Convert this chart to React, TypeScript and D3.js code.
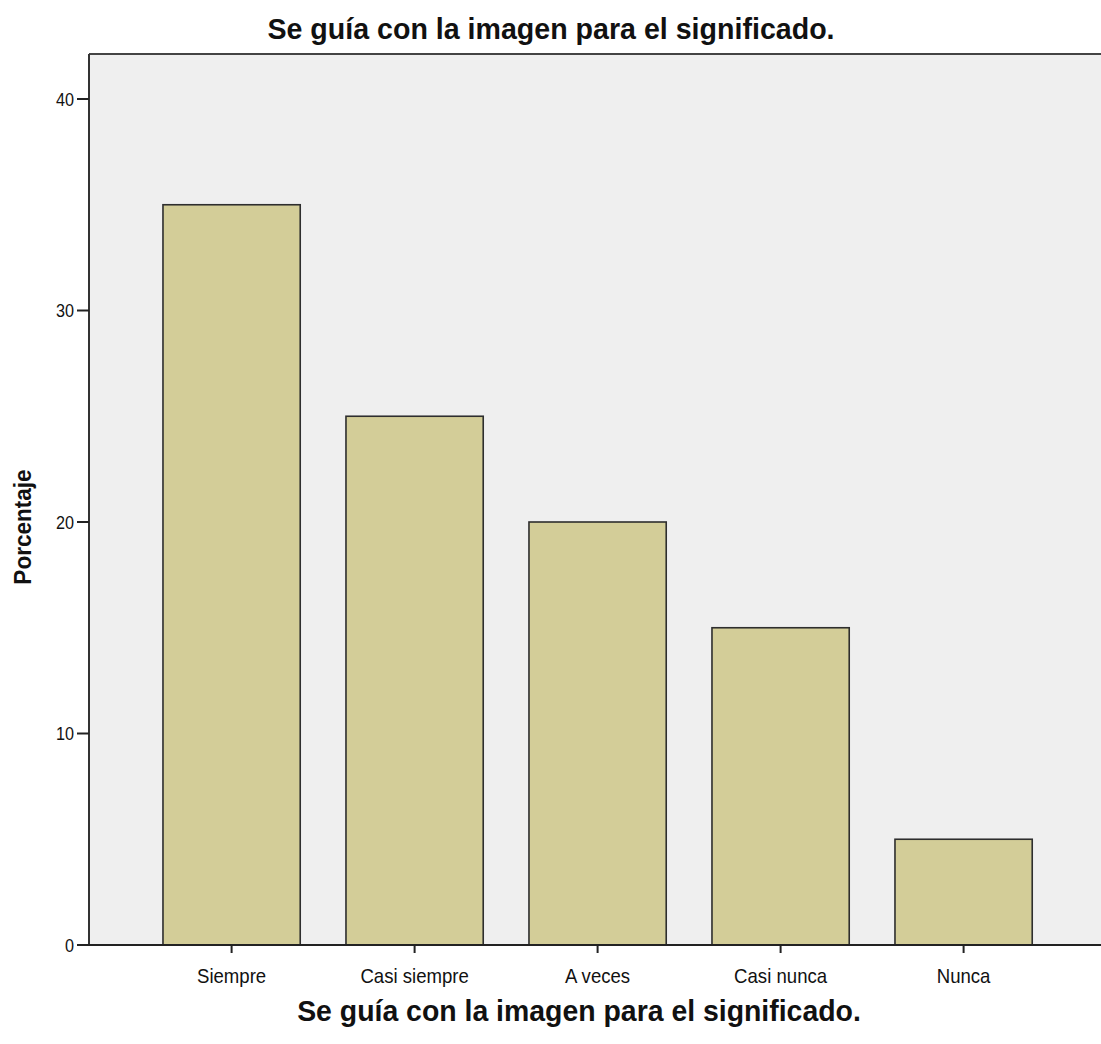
import React from "react";
import * as d3 from "d3";

const categories = ["Siempre", "Casi siempre", "A veces", "Casi nunca", "Nunca"];
const values = [35, 25, 20, 15, 5];
const yTicks = [0, 10, 20, 30, 40];
const title = "Se guía con la imagen para el significado.";
const xTitle = "Se guía con la imagen para el significado.";
const yTitle = "Porcentaje";

const W = 1101;
const H = 1044;
const left = 89;
const top = 54;
const bottom = 945;

export default function App() {
  const y = d3.scaleLinear().domain([0, 40]).range([bottom, 99]);
  const x = d3
    .scaleBand<string>()
    .domain(categories)
    .range([140.1, 1055.1])
    .paddingInner(0.25)
    .paddingOuter(0.125);
  const font = "'Liberation Sans', Arial, sans-serif";
  return (
    <svg
      width={W}
      height={H}
      style={{ position: "absolute", left: 0, top: 0, background: "#fff" }}
      fontFamily={font}
    >
      <rect x={left} y={top} width={W - left} height={bottom - top} fill="#efefef" />
      {categories.map((c, i) => (
        <rect
          key={c}
          x={x(c)}
          y={y(values[i])}
          width={x.bandwidth()}
          height={bottom - y(values[i])}
          fill="#d3cd98"
          stroke="#2e2e2e"
          strokeWidth={1.6}
        />
      ))}
      <line x1={left} x2={W} y1={top} y2={top} stroke="#444" strokeWidth={2} />
      <line x1={left} x2={left} y1={top} y2={bottom} stroke="#333" strokeWidth={2} />
      <line x1={left - 12} x2={W} y1={bottom} y2={bottom} stroke="#222" strokeWidth={2} />
      {yTicks.map((t) => (
        <g key={t}>
          <line x1={left - 12} x2={left} y1={y(t)} y2={y(t)} stroke="#222" strokeWidth={2} />
          <text
            transform={`translate(${left - 15},${y(t) + 6.5}) scale(0.9,1)`}
            textAnchor="end"
            fontSize={18}
            fill="#111"
          >
            {t}
          </text>
        </g>
      ))}
      {categories.map((c) => {
        const cx = (x(c) as number) + x.bandwidth() / 2;
        return (
          <g key={c}>
            <line x1={cx} x2={cx} y1={bottom} y2={bottom + 8} stroke="#222" strokeWidth={2} />
            <text
              transform={`translate(${cx},983) scale(0.93,1)`}
              textAnchor="middle"
              fontSize={20}
              fill="#111"
            >
              {c}
            </text>
          </g>
        );
      })}
      <text
        transform="translate(551,39) scale(0.953,1)"
        textAnchor="middle"
        fontSize={30}
        fontWeight="bold"
        fill="#111"
      >
        {title}
      </text>
      <text
        transform="translate(579,1021) scale(0.98,1)"
        textAnchor="middle"
        fontSize={29}
        fontWeight="bold"
        fill="#111"
      >
        {xTitle}
      </text>
      <text
        transform={`translate(31,527) rotate(-90) scale(0.94,1)`}
        textAnchor="middle"
        fontSize={24}
        fontWeight="bold"
        fill="#111"
      >
        {yTitle}
      </text>
    </svg>
  );
}
